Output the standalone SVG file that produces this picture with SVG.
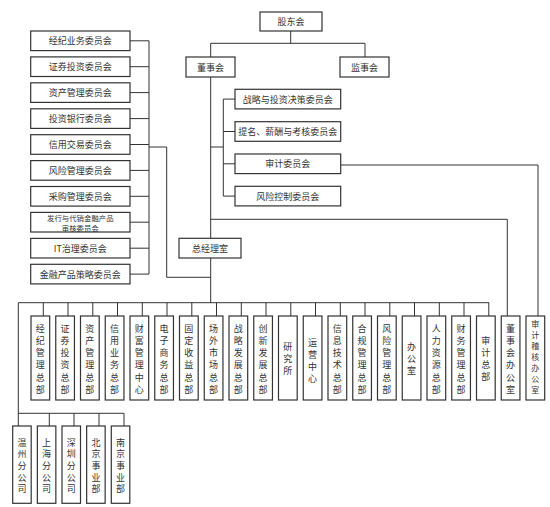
<svg xmlns="http://www.w3.org/2000/svg" width="550" height="507" viewBox="0 0 550 507">
<style>
.b{fill:#fff;stroke:#333;stroke-width:1.2}
.t{font-family:"Noto Sans CJK SC","Noto Sans",sans-serif;font-size:9px;fill:#333;text-anchor:middle;dominant-baseline:central}
.c{fill:none;stroke:#333;stroke-width:1}
</style>
<rect width="550" height="507" fill="#fff"/>
<g id="connectors" class="c">
<path d="M290.7 31V43.3M210.7 57V43.3H365V57"/>
<path d="M210.7 77V238.3M210.7 258V302.7"/>
<path d="M223.3 99.1V196.1M210.7 147H223.3M223.3 99.1H235M223.3 131.5H235M223.3 163.8H235M223.3 196.1H235"/>
<path d="M340.7 165H538V316"/>
<path d="M210.7 219.3H507.3V316"/>
<path d="M149 40.8V274M130 40.8H149M130 66.7H149M130 92.6H149M130 118.6H149M130 144.5H149M130 170.4H149M130 196.3H149M130 222.2H149M130 248.2H149M130 274.1H149"/>
<path d="M149 147H166.7V277.3H210.7"/>
<path d="M18.3 302.7H489M18.3 302.7V426"/>
<path d="M43.3 302.7V316M68 302.7V316M92.8 302.7V316M117.5 302.7V316M142.3 302.7V316M167 302.7V316M191.8 302.7V316M216.5 302.7V316M241.3 302.7V316M266 302.7V316M290.8 302.7V316M315.5 302.7V316M340.3 302.7V316M365 302.7V316M389.8 302.7V316M414.5 302.7V316M439.3 302.7V316M464 302.7V316M488.8 302.7V316"/>
<path d="M18.3 413.3H124M49.3 413.3V426M74 413.3V426M99 413.3V426M124 413.3V426"/>
</g>
<g id="gudonghui"><rect class="b" x="260" y="12" width="62" height="19"/><text class="t" x="291" y="21.5">股东会</text></g>
<g id="dongshihui"><rect class="b" x="186" y="57" width="49" height="20"/><text class="t" x="210.5" y="67">董事会</text></g>
<g id="jianshihui"><rect class="b" x="340" y="57" width="49" height="20"/><text class="t" x="364.5" y="67">监事会</text></g>
<g id="zhanlue"><rect class="b" x="235" y="89.3" width="105.7" height="19.6"/><text class="t" x="287.8" y="99.1">战略与投资决策委员会</text></g>
<g id="timing"><rect class="b" x="235" y="121.7" width="105.7" height="19.6"/><text class="t" x="287.8" y="131.5">提名、薪酬与考核委员会</text></g>
<g id="shenji"><rect class="b" x="235" y="154" width="105.7" height="19.6"/><text class="t" x="287.8" y="163.8">审计委员会</text></g>
<g id="fengkong"><rect class="b" x="235" y="186.3" width="105.7" height="19.6"/><text class="t" x="287.8" y="196.1">风险控制委员会</text></g>
<g id="zongjingli"><rect class="b" x="179" y="238.3" width="62" height="19.7"/><text class="t" x="210" y="248.2">总经理室</text></g>
<g id="lc1"><rect class="b" x="30.7" y="31" width="99.3" height="19.6"/><text class="t" x="80.3" y="40.8">经纪业务委员会</text></g>
<g id="lc2"><rect class="b" x="30.7" y="56.9" width="99.3" height="19.6"/><text class="t" x="80.3" y="66.7">证券投资委员会</text></g>
<g id="lc3"><rect class="b" x="30.7" y="82.8" width="99.3" height="19.6"/><text class="t" x="80.3" y="92.6">资产管理委员会</text></g>
<g id="lc4"><rect class="b" x="30.7" y="108.8" width="99.3" height="19.6"/><text class="t" x="80.3" y="118.6">投资银行委员会</text></g>
<g id="lc5"><rect class="b" x="30.7" y="134.7" width="99.3" height="19.6"/><text class="t" x="80.3" y="144.5">信用交易委员会</text></g>
<g id="lc6"><rect class="b" x="30.7" y="160.6" width="99.3" height="19.6"/><text class="t" x="80.3" y="170.4">风险管理委员会</text></g>
<g id="lc7"><rect class="b" x="30.7" y="186.5" width="99.3" height="19.6"/><text class="t" x="80.3" y="196.3">采购管理委员会</text></g>
<g id="lc8"><rect class="b" x="30.7" y="212.4" width="99.3" height="19.6"/><text class="t" x="80.3" y="217.2" style="font-size:7.4px">发行与代销金融产品</text><text class="t" x="80.3" y="227.2" style="font-size:7.4px">审核委员会</text></g>
<g id="lc9"><rect class="b" x="30.7" y="238.4" width="99.3" height="19.6"/><text class="t" x="80.3" y="248.2">IT治理委员会</text></g>
<g id="lc10"><rect class="b" x="30.7" y="264.3" width="99.3" height="19.6"/><text class="t" x="80.3" y="274.1">金融产品策略委员会</text></g>
<g id="d1"><rect class="b" x="31" y="316" width="18.7" height="84"/><text class="t"><tspan x="40.3" y="327.7">经</tspan><tspan x="40.3" y="339.9">纪</tspan><tspan x="40.3" y="352.1">管</tspan><tspan x="40.3" y="364.3">理</tspan><tspan x="40.3" y="376.5">总</tspan><tspan x="40.3" y="388.7">部</tspan></text></g>
<g id="d2"><rect class="b" x="55.75" y="316" width="18.7" height="84"/><text class="t"><tspan x="65.1" y="327.7">证</tspan><tspan x="65.1" y="339.9">券</tspan><tspan x="65.1" y="352.1">投</tspan><tspan x="65.1" y="364.3">资</tspan><tspan x="65.1" y="376.5">总</tspan><tspan x="65.1" y="388.7">部</tspan></text></g>
<g id="d3"><rect class="b" x="80.5" y="316" width="18.7" height="84"/><text class="t"><tspan x="89.8" y="327.7">资</tspan><tspan x="89.8" y="339.9">产</tspan><tspan x="89.8" y="352.1">管</tspan><tspan x="89.8" y="364.3">理</tspan><tspan x="89.8" y="376.5">总</tspan><tspan x="89.8" y="388.7">部</tspan></text></g>
<g id="d4"><rect class="b" x="105.25" y="316" width="18.7" height="84"/><text class="t"><tspan x="114.6" y="327.7">信</tspan><tspan x="114.6" y="339.9">用</tspan><tspan x="114.6" y="352.1">业</tspan><tspan x="114.6" y="364.3">务</tspan><tspan x="114.6" y="376.5">总</tspan><tspan x="114.6" y="388.7">部</tspan></text></g>
<g id="d5"><rect class="b" x="130" y="316" width="18.7" height="84"/><text class="t"><tspan x="139.3" y="327.7">财</tspan><tspan x="139.3" y="339.9">富</tspan><tspan x="139.3" y="352.1">管</tspan><tspan x="139.3" y="364.3">理</tspan><tspan x="139.3" y="376.5">中</tspan><tspan x="139.3" y="388.7">心</tspan></text></g>
<g id="d6"><rect class="b" x="154.75" y="316" width="18.7" height="84"/><text class="t"><tspan x="164.1" y="327.7">电</tspan><tspan x="164.1" y="339.9">子</tspan><tspan x="164.1" y="352.1">商</tspan><tspan x="164.1" y="364.3">务</tspan><tspan x="164.1" y="376.5">总</tspan><tspan x="164.1" y="388.7">部</tspan></text></g>
<g id="d7"><rect class="b" x="179.5" y="316" width="18.7" height="84"/><text class="t"><tspan x="188.8" y="327.7">固</tspan><tspan x="188.8" y="339.9">定</tspan><tspan x="188.8" y="352.1">收</tspan><tspan x="188.8" y="364.3">益</tspan><tspan x="188.8" y="376.5">总</tspan><tspan x="188.8" y="388.7">部</tspan></text></g>
<g id="d8"><rect class="b" x="204.25" y="316" width="18.7" height="84"/><text class="t"><tspan x="213.6" y="327.7">场</tspan><tspan x="213.6" y="339.9">外</tspan><tspan x="213.6" y="352.1">市</tspan><tspan x="213.6" y="364.3">场</tspan><tspan x="213.6" y="376.5">总</tspan><tspan x="213.6" y="388.7">部</tspan></text></g>
<g id="d9"><rect class="b" x="229" y="316" width="18.7" height="84"/><text class="t"><tspan x="238.3" y="327.7">战</tspan><tspan x="238.3" y="339.9">略</tspan><tspan x="238.3" y="352.1">发</tspan><tspan x="238.3" y="364.3">展</tspan><tspan x="238.3" y="376.5">总</tspan><tspan x="238.3" y="388.7">部</tspan></text></g>
<g id="d10"><rect class="b" x="253.75" y="316" width="18.7" height="84"/><text class="t"><tspan x="263.1" y="327.7">创</tspan><tspan x="263.1" y="339.9">新</tspan><tspan x="263.1" y="352.1">发</tspan><tspan x="263.1" y="364.3">展</tspan><tspan x="263.1" y="376.5">总</tspan><tspan x="263.1" y="388.7">部</tspan></text></g>
<g id="d11"><rect class="b" x="278.5" y="316" width="18.7" height="84"/><text class="t"><tspan x="287.8" y="345.8">研</tspan><tspan x="287.8" y="358">究</tspan><tspan x="287.8" y="370.2">所</tspan></text></g>
<g id="d12"><rect class="b" x="303.25" y="316" width="18.7" height="84"/><text class="t"><tspan x="312.6" y="341.7">运</tspan><tspan x="312.6" y="353.9">营</tspan><tspan x="312.6" y="366.1">中</tspan><tspan x="312.6" y="378.3">心</tspan></text></g>
<g id="d13"><rect class="b" x="328" y="316" width="18.7" height="84"/><text class="t"><tspan x="337.3" y="327.7">信</tspan><tspan x="337.3" y="339.9">息</tspan><tspan x="337.3" y="352.1">技</tspan><tspan x="337.3" y="364.3">术</tspan><tspan x="337.3" y="376.5">总</tspan><tspan x="337.3" y="388.7">部</tspan></text></g>
<g id="d14"><rect class="b" x="352.75" y="316" width="18.7" height="84"/><text class="t"><tspan x="362.1" y="327.7">合</tspan><tspan x="362.1" y="339.9">规</tspan><tspan x="362.1" y="352.1">管</tspan><tspan x="362.1" y="364.3">理</tspan><tspan x="362.1" y="376.5">总</tspan><tspan x="362.1" y="388.7">部</tspan></text></g>
<g id="d15"><rect class="b" x="377.5" y="316" width="18.7" height="84"/><text class="t"><tspan x="386.8" y="327.7">风</tspan><tspan x="386.8" y="339.9">险</tspan><tspan x="386.8" y="352.1">管</tspan><tspan x="386.8" y="364.3">理</tspan><tspan x="386.8" y="376.5">总</tspan><tspan x="386.8" y="388.7">部</tspan></text></g>
<g id="d16"><rect class="b" x="402.25" y="316" width="18.7" height="84"/><text class="t"><tspan x="411.6" y="345.8">办</tspan><tspan x="411.6" y="358">公</tspan><tspan x="411.6" y="370.2">室</tspan></text></g>
<g id="d17"><rect class="b" x="427" y="316" width="18.7" height="84"/><text class="t"><tspan x="436.3" y="327.7">人</tspan><tspan x="436.3" y="339.9">力</tspan><tspan x="436.3" y="352.1">资</tspan><tspan x="436.3" y="364.3">源</tspan><tspan x="436.3" y="376.5">总</tspan><tspan x="436.3" y="388.7">部</tspan></text></g>
<g id="d18"><rect class="b" x="451.75" y="316" width="18.7" height="84"/><text class="t"><tspan x="461.1" y="327.7">财</tspan><tspan x="461.1" y="339.9">务</tspan><tspan x="461.1" y="352.1">管</tspan><tspan x="461.1" y="364.3">理</tspan><tspan x="461.1" y="376.5">总</tspan><tspan x="461.1" y="388.7">部</tspan></text></g>
<g id="d19"><rect class="b" x="476.5" y="316" width="18.7" height="84"/><text class="t"><tspan x="485.8" y="339.7">审</tspan><tspan x="485.8" y="351.9">计</tspan><tspan x="485.8" y="364.1">总</tspan><tspan x="485.8" y="376.3">部</tspan></text></g>
<g id="d20"><rect class="b" x="501.25" y="316" width="18.7" height="84"/><text class="t"><tspan x="510.6" y="327.7">董</tspan><tspan x="510.6" y="339.9">事</tspan><tspan x="510.6" y="352.1">会</tspan><tspan x="510.6" y="364.3">办</tspan><tspan x="510.6" y="376.5">公</tspan><tspan x="510.6" y="388.7">室</tspan></text></g>
<g id="d21"><rect class="b" x="526" y="316" width="18.7" height="84"/><text class="t" style="font-size:8px"><tspan x="535.3" y="323.3">审</tspan><tspan x="535.3" y="334.2">计</tspan><tspan x="535.3" y="345.1">稽</tspan><tspan x="535.3" y="356">核</tspan><tspan x="535.3" y="366.9">办</tspan><tspan x="535.3" y="377.8">公</tspan><tspan x="535.3" y="388.7">室</tspan></text></g>
<g id="b1"><rect class="b" x="12.7" y="426" width="18.5" height="77.3"/><text class="t"><tspan x="21.9" y="441.6">温</tspan><tspan x="21.9" y="453.3">州</tspan><tspan x="21.9" y="465">分</tspan><tspan x="21.9" y="476.7">公</tspan><tspan x="21.9" y="488.4">司</tspan></text></g>
<g id="b2"><rect class="b" x="37.35" y="426" width="18.5" height="77.3"/><text class="t"><tspan x="46.6" y="441.6">上</tspan><tspan x="46.6" y="453.3">海</tspan><tspan x="46.6" y="465">分</tspan><tspan x="46.6" y="476.7">公</tspan><tspan x="46.6" y="488.4">司</tspan></text></g>
<g id="b3"><rect class="b" x="62" y="426" width="18.5" height="77.3"/><text class="t"><tspan x="71.2" y="441.6">深</tspan><tspan x="71.2" y="453.3">圳</tspan><tspan x="71.2" y="465">分</tspan><tspan x="71.2" y="476.7">公</tspan><tspan x="71.2" y="488.4">司</tspan></text></g>
<g id="b4"><rect class="b" x="86.65" y="426" width="18.5" height="77.3"/><text class="t"><tspan x="95.9" y="441.6">北</tspan><tspan x="95.9" y="453.3">京</tspan><tspan x="95.9" y="465">事</tspan><tspan x="95.9" y="476.7">业</tspan><tspan x="95.9" y="488.4">部</tspan></text></g>
<g id="b5"><rect class="b" x="111.3" y="426" width="18.5" height="77.3"/><text class="t"><tspan x="120.5" y="441.6">南</tspan><tspan x="120.5" y="453.3">京</tspan><tspan x="120.5" y="465">事</tspan><tspan x="120.5" y="476.7">业</tspan><tspan x="120.5" y="488.4">部</tspan></text></g>
</svg>
